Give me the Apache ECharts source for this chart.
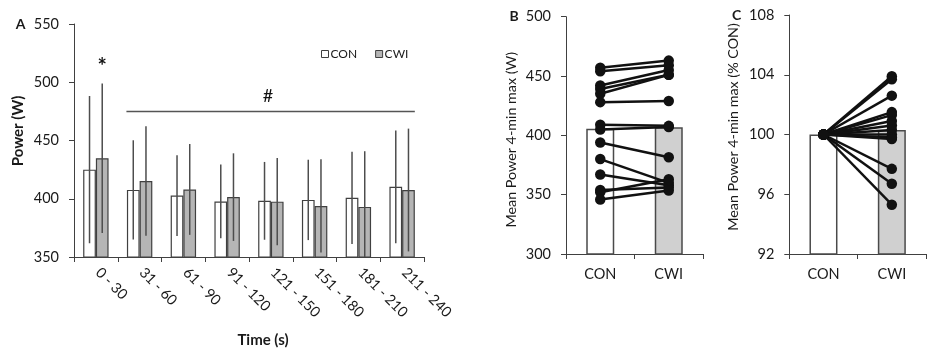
<!DOCTYPE html>
<html>
<head>
    <meta charset="utf-8">
    <script src="https://cdn.jsdelivr.net/npm/echarts@6/dist/echarts.min.js"></script>
</head>
<body style="margin:0;background-color:#fff;">
    <div id="container" style="width:934px;height:352px;"></div>
    <script type="text/javascript">
        // Panel A - power per 30 s block
        var categories = ['0 - 30', '31 - 60', '61 - 90', '91 - 120', '121 - 150', '151 - 180', '181 - 210', '211 - 240'];
        var conMean = [425, 407.6, 402.7, 397.7, 398.2, 399, 400.8, 410.2];
        var cwiMean = [434.8, 415.3, 408, 401.4, 397.5, 393.8, 393, 407.5];
        var conSD = [63.2, 42.6, 34.7, 31.7, 33.4, 34.5, 39.6, 48.3];
        var cwiSD = [64.2, 47, 39, 37.6, 37.5, 40, 47.8, 52.7];

        // Panel B - mean power 4-min max (W)
        var groups = ['CON', 'CWI'];
        var meanB = [405.6, 406.8];
        var pairCon = [457, 454, 442, 439, 435, 428, 409, 405, 394, 380, 367, 354, 352, 346];
        var pairCwi = [463, 459, 455, 451, 451, 429, 408, 407, 381.5, 360, 358, 356, 363, 353.5];

        // Panel C - relative to CON (%)
        var meanC = [100, 100.3];
        var relCon = [100, 100, 100, 100, 100, 100, 100, 100, 100, 100, 100, 100, 100, 100];
        var relCwi = [103.9, 103.7, 102.6, 101.5, 101.3, 100.9, 100.6, 100.3, 100.0, 99.8, 99.7, 97.7, 96.7, 95.3];

        var font = 'Lato';
        var axisColor = '#404040';
        var textColor = '#1a1a1a';
        var barW = 12.7;

        function yAxis(grid, min, max, step) {
            return {
                type: 'value', gridIndex: grid, min: min, max: max, interval: step,
                axisLine: { show: true, lineStyle: { color: axisColor, width: 1 } },
                axisTick: { show: true, length: 5, lineStyle: { color: axisColor } },
                splitLine: { show: false },
                axisLabel: { margin: 15, color: textColor, fontSize: 14.5, fontFamily: font }
            };
        }
        function xAxis(grid, data, rot) {
            return {
                type: 'category', gridIndex: grid, data: data,
                axisLine: { lineStyle: { color: axisColor, width: 1 } },
                axisTick: { show: true, length: 5, lineStyle: { color: axisColor } },
                axisLabel: {
                    margin: rot ? 11 : 13, rotate: rot, color: textColor,
                    fontSize: 14.5, fontFamily: font,
                    padding: rot ? [0, 0, 0, 3] : 0
                }
            };
        }

        function errorBars(means, sds, side) {
            return {
                type: 'custom', xAxisIndex: 0, yAxisIndex: 0, z: 5,
                data: means.map(function (m, i) { return [i, m, sds[i]]; }),
                renderItem: function (params, api) {
                    var i = api.value(0), m = api.value(1), s = api.value(2);
                    var c = api.coord([i, m]);
                    var x = c[0] + side * barW / 2;
                    var top = api.coord([i, m + s]);
                    var bot = api.coord([i, Math.max(m - s, 350)]);
                    return {
                        type: 'line',
                        shape: { x1: x, y1: top[1], x2: x, y2: bot[1] },
                        style: { stroke: '#4d4d4d', lineWidth: 1.5 }
                    };
                }
            };
        }

        var series = [
            {
                name: 'CON', type: 'bar', xAxisIndex: 0, yAxisIndex: 0, data: conMean,
                barWidth: barW, barGap: '0%',
                itemStyle: { color: '#ffffff', borderColor: axisColor, borderWidth: 1.2 }
            },
            {
                name: 'CWI', type: 'bar', xAxisIndex: 0, yAxisIndex: 0, data: cwiMean,
                barWidth: barW, barGap: '0%',
                itemStyle: { color: '#b5b5b5', borderColor: axisColor, borderWidth: 1.2 }
            },
            errorBars(conMean, conSD, -1),
            errorBars(cwiMean, cwiSD, 1),
            {
                name: 'meanB', type: 'bar', xAxisIndex: 1, yAxisIndex: 1, barWidth: 28,
                data: [
                    { value: meanB[0], itemStyle: { color: '#ffffff' } },
                    { value: meanB[1], itemStyle: { color: '#d0d0d0' } }
                ],
                itemStyle: { borderColor: '#4a4a4a', borderWidth: 1.5 }
            },
            {
                name: 'meanC', type: 'bar', xAxisIndex: 2, yAxisIndex: 2, barWidth: 28,
                data: [
                    { value: meanC[0], itemStyle: { color: '#ffffff' } },
                    { value: meanC[1], itemStyle: { color: '#d0d0d0' } }
                ],
                itemStyle: { borderColor: '#4a4a4a', borderWidth: 1.5 }
            }
        ];

        function pairLine(a, b, grid) {
            return {
                type: 'line', xAxisIndex: grid, yAxisIndex: grid, data: [a, b], z: 6,
                symbol: 'circle', symbolSize: 10.5, silent: true,
                itemStyle: { color: '#111111' },
                lineStyle: { color: '#111111', width: 2.5 }
            };
        }
        for (var i = 0; i < pairCon.length; i++) {
            series.push(pairLine(pairCon[i], pairCwi[i], 1));
        }
        for (var j = 0; j < relCwi.length; j++) {
            series.push(pairLine(relCon[j], relCwi[j], 2));
        }

        var boldText = { fill: textColor, fontFamily: font, fontWeight: 'bold', fontSize: 15 };
        var letterText = { fill: textColor, fontFamily: font, fontWeight: 'bold', fontSize: 14 };
        var plainText = { fill: textColor, fontFamily: font, fontSize: 14.3 };
        function label(text, x, y, style, rotate) {
            return {
                type: 'text', x: x, y: y, rotation: rotate ? Math.PI / 2 : 0,
                style: Object.assign({ text: text, align: 'center', verticalAlign: 'middle' }, style)
            };
        }

        var option = {
            animation: false,
            backgroundColor: '#ffffff',
            grid: [
                { left: 74, top: 24, width: 350, height: 233 },
                { left: 566, top: 16.7, width: 137, height: 237.3 },
                { left: 789.3, top: 15, width: 136.7, height: 239 }
            ],
            xAxis: [xAxis(0, categories, -45), xAxis(1, groups, 0), xAxis(2, groups, 0)],
            yAxis: [yAxis(0, 350, 550, 50), yAxis(1, 300, 500, 50), yAxis(2, 92, 108, 4)],
            legend: {
                left: 316, top: 43, itemWidth: 7, itemHeight: 7, itemGap: 18, icon: 'rect',
                textStyle: { color: textColor, fontSize: 12, fontFamily: font, padding: [0, 0, 0, -3] },
                data: [
                    { name: 'CON', itemStyle: { color: '#ffffff', borderColor: axisColor, borderWidth: 1 } },
                    { name: 'CWI', itemStyle: { color: '#b5b5b5', borderColor: axisColor, borderWidth: 1 } }
                ]
            },
            series: series
        };

        var chart = echarts.init(document.getElementById('container'), null, { renderer: 'canvas' });
        chart.setOption(option);

        // annotations placed from the panel A scales
        var pStar = chart.convertToPixel({ xAxisIndex: 0, yAxisIndex: 0 }, [0, 516]);
        var pL = chart.convertToPixel({ xAxisIndex: 0, yAxisIndex: 0 }, [1, 475]);
        var pR = chart.convertToPixel({ xAxisIndex: 0, yAxisIndex: 0 }, [7, 475]);
        var pHash = chart.convertToPixel({ xAxisIndex: 0, yAxisIndex: 0 }, [4, 488]);

        chart.setOption({
            graphic: [
                label('A', 20.7, 24, letterText),
                label('B', 514, 16.7, letterText),
                label('C', 736.7, 15, letterText),
                label('Power (W)', 18, 131, boldText, true),
                label('Time (s)', 263, 340, boldText),
                label('Mean Power 4-min max (W)', 511.7, 139.7, plainText, true),
                label('Mean Power 4-min max (% CON)', 733.3, 127, plainText, true),
                label('*', pStar[0] + barW / 2, pStar[1] + 3, { fill: '#111', fontFamily: font, fontWeight: 'bold', fontSize: 22 }),
                label('#', pHash[0] - 3, pHash[1], { fill: '#111', fontFamily: font, fontSize: 18 }),
                {
                    type: 'line',
                    shape: { x1: pL[0] - barW - 0.5, y1: pL[1], x2: pR[0] + barW, y2: pR[1] },
                    style: { stroke: '#555555', lineWidth: 1.5 }
                }
            ]
        });
    </script>
</body>
</html>
